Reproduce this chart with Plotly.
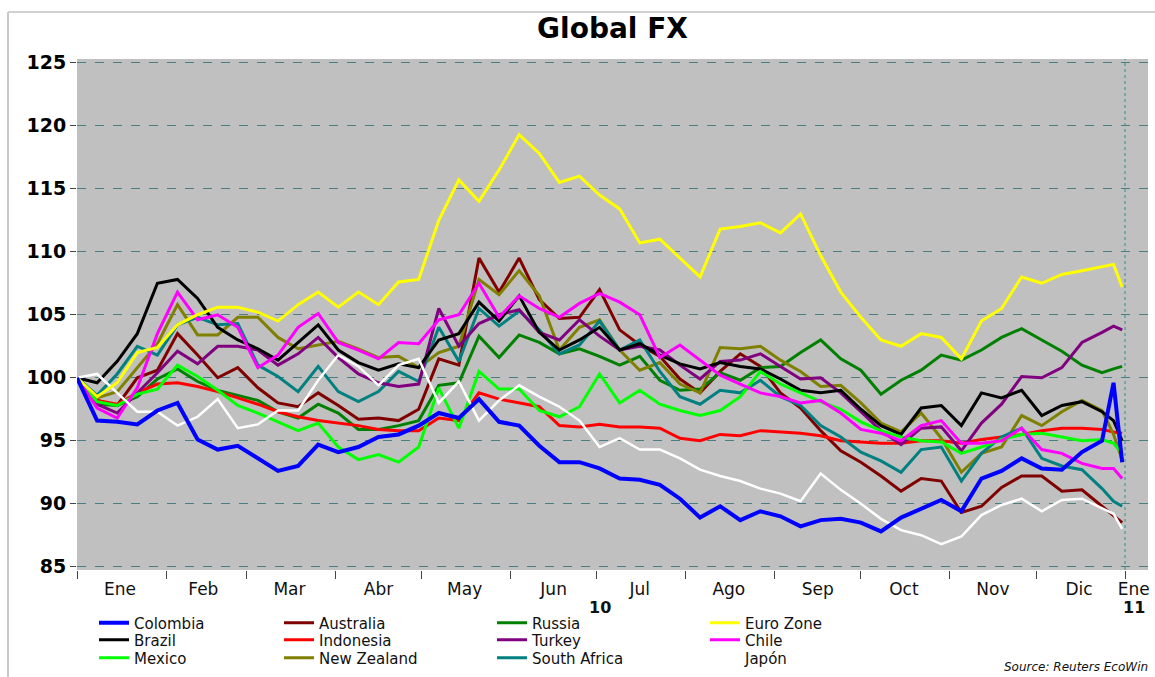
import plotly.graph_objects as go

dates = ["2010-01-01", "2010-01-08", "2010-01-15", "2010-01-22", "2010-01-29", "2010-02-05",
         "2010-02-12", "2010-02-19", "2010-02-26", "2010-03-05", "2010-03-12", "2010-03-19",
         "2010-03-26", "2010-04-02", "2010-04-09", "2010-04-16", "2010-04-23", "2010-04-30",
         "2010-05-07", "2010-05-14", "2010-05-21", "2010-05-28", "2010-06-04", "2010-06-11",
         "2010-06-18", "2010-06-25", "2010-07-02", "2010-07-09", "2010-07-16", "2010-07-23",
         "2010-07-30", "2010-08-06", "2010-08-13", "2010-08-20", "2010-08-27", "2010-09-03",
         "2010-09-10", "2010-09-17", "2010-09-24", "2010-10-01", "2010-10-08", "2010-10-15",
         "2010-10-22", "2010-10-29", "2010-11-05", "2010-11-12", "2010-11-19", "2010-11-26",
         "2010-12-03", "2010-12-10", "2010-12-17", "2010-12-24", "2010-12-28", "2010-12-31"]

colombia = [100, 96.6, 96.5, 96.3, 97.4, 98.0, 95.1, 94.3, 94.6, 93.6, 92.6, 93.0, 94.7, 94.1,
            94.5, 95.3, 95.5, 96.2, 97.2, 96.8, 98.3, 96.5, 96.2, 94.6, 93.3, 93.3, 92.8, 92.0,
            91.9, 91.5, 90.4, 88.9, 89.8, 88.7, 89.4, 89.0, 88.2, 88.7, 88.8, 88.5, 87.8, 88.9,
            89.6, 90.3, 89.4, 92.0, 92.6, 93.6, 92.8, 92.7, 94.1, 95.0, 99.6, 93.3]
brazil = [100, 99.6, 101.3, 103.5, 107.5, 107.8, 106.3, 104.0, 103.0, 102.3, 101.4, 102.8, 104.2,
          102.2, 101.2, 100.6, 101.1, 100.8, 103.0, 103.5, 106.0, 104.5, 106.5, 103.6, 102.2,
          103.0, 104.0, 102.2, 102.7, 101.8, 101.1, 100.7, 101.2, 100.9, 100.7, 99.9, 99.0, 98.8,
          99.0, 97.5, 96.2, 95.5, 97.6, 97.8, 96.2, 98.8, 98.4, 99.0, 97.0, 97.8, 98.1, 97.3,
          96.6, 95.0]
mexico = [100, 98.1, 97.8, 98.7, 99.1, 101.0, 100.1, 99.0, 97.8, 97.2, 96.5, 95.8, 96.4, 94.5,
          93.5, 93.9, 93.3, 94.5, 99.2, 96.0, 100.5, 99.1, 99.1, 97.4, 96.9, 97.7, 100.3, 98.0,
          99.0, 97.9, 97.4, 97.0, 97.4, 98.5, 100.5, 99.5, 98.8, 98.1, 97.5, 96.5, 95.8, 95.3,
          95.0, 94.9, 94.0, 94.5, 95.1, 95.5, 95.6, 95.3, 95.0, 95.1, 94.8, 94.0]
australia = [100, 98.2, 97.8, 100.0, 100.6, 103.5, 101.8, 100.0, 100.8, 99.2, 98.0, 97.7, 98.8,
             97.8, 96.7, 96.8, 96.6, 97.5, 101.5, 101.0, 109.5, 106.8, 109.5, 106.2, 104.7, 104.8,
             107.0, 103.8, 102.6, 101.7, 99.9, 98.8, 100.5, 101.9, 100.9, 98.8, 97.6, 95.8, 94.2,
             93.3, 92.2, 91.0, 92.0, 91.8, 89.3, 89.8, 91.3, 92.2, 92.2, 91.0, 91.1, 89.8, 89.0,
             88.5]
indonesia = [100, 98.2, 97.9, 98.8, 99.5, 99.6, 99.3, 98.9, 98.4, 97.9, 97.3, 96.9, 96.6, 96.4,
             96.2, 95.9, 95.8, 95.8, 96.8, 96.6, 98.8, 98.3, 98.0, 97.7, 96.2, 96.1, 96.3, 96.1,
             96.1, 96.0, 95.2, 95.0, 95.5, 95.4, 95.8, 95.7, 95.6, 95.4, 95.0, 94.9, 94.8, 94.8,
             95.0, 95.0, 94.8, 95.1, 95.3, 95.5, 95.8, 96.0, 96.0, 95.9, 95.7, 95.6]
new_zealand = [100, 98.4, 98.9, 100.8, 102.7, 105.8, 103.4, 103.4, 104.8, 104.8, 103.2, 102.3,
               102.6, 102.9, 102.3, 101.6, 101.7, 100.8, 102.0, 102.5, 107.8, 106.6, 108.5, 106.5,
               102.2, 104.0, 104.6, 102.2, 100.6, 101.2, 99.5, 98.8, 102.4, 102.3, 102.5, 101.4,
               100.5, 99.3, 99.4, 98.0, 96.4, 95.7, 97.2, 95.2, 92.5, 94.0, 94.5, 97.0, 96.2, 97.3,
               98.2, 97.4, 95.5, 93.5]
russia = [100, 97.9, 97.8, 98.5, 99.9, 100.7, 99.7, 99.0, 98.6, 98.2, 97.3, 96.8, 97.9, 97.2,
          95.9, 95.9, 96.2, 96.6, 99.4, 99.6, 103.3, 101.6, 103.4, 102.8, 101.9, 102.3, 101.7,
          101.0, 101.7, 99.8, 99.0, 99.1, 100.4, 99.8, 100.8, 100.9, 102.0, 103.0, 101.5, 100.6,
          98.7, 99.8, 100.6, 101.8, 101.4, 102.2, 103.2, 103.9, 103.0, 102.1, 101.0, 100.4,
          100.7, 100.9]
turkey = [100, 97.9, 97.2, 98.8, 100.4, 102.1, 101.1, 102.5, 102.5, 102.2, 101.0, 101.9, 103.2,
          101.6, 100.3, 99.6, 99.3, 99.5, 105.5, 102.5, 104.3, 105.0, 105.4, 103.6, 103.0, 104.6,
          103.3, 102.2, 102.5, 102.2, 101.0, 99.9, 101.3, 101.4, 101.9, 100.9, 99.9, 100.0, 98.8,
          97.3, 95.8, 94.7, 96.0, 96.1, 94.2, 96.4, 97.9, 100.1, 100.0, 100.8, 102.8, 103.6,
          104.1, 103.8]
south_africa = [100, 98.6, 100.3, 102.5, 101.8, 104.2, 104.8, 104.2, 104.3, 101.0, 100.1, 98.9,
                100.9, 98.9, 98.1, 98.9, 100.5, 99.7, 104.0, 101.3, 105.5, 104.1, 105.3, 103.8,
                101.9, 102.6, 104.5, 102.2, 103.0, 100.5, 98.5, 97.9, 99.0, 98.8, 99.8, 98.5,
                97.8, 96.2, 95.3, 94.1, 93.4, 92.5, 94.3, 94.5, 91.8, 94.0, 95.3, 96.0, 93.6, 93.0,
                92.7, 91.2, 90.2, 89.8]
euro_zone = [100, 98.5, 99.6, 102.0, 102.4, 104.2, 105.0, 105.6, 105.6, 105.2, 104.5, 105.8,
             106.8, 105.6, 106.8, 105.8, 107.6, 107.8, 112.5, 115.7, 114.0, 116.5, 119.3, 117.8,
             115.5, 116.0, 114.5, 113.4, 110.7, 111.0, 109.5, 108.0, 111.8, 112.0, 112.3, 111.5,
             113.0, 109.7, 106.8, 104.8, 103.0, 102.5, 103.5, 103.2, 101.5, 104.5, 105.5, 108.0,
             107.5, 108.2, 108.5, 108.8, 109.0, 107.2]
chile = [100, 97.6, 96.8, 99.2, 103.5, 106.8, 104.6, 105.0, 104.0, 100.8, 101.8, 104.0, 105.1,
         102.8, 102.2, 101.5, 102.8, 102.7, 104.6, 105.0, 107.5, 104.8, 106.5, 105.5, 104.8, 105.9,
         106.7, 106.0, 105.0, 101.6, 102.6, 101.4, 100.2, 99.5, 98.8, 98.5, 98.0, 98.2, 97.2, 95.9,
         95.6, 95.0, 96.2, 96.6, 94.8, 94.8, 95.0, 96.0, 94.3, 94.0, 93.2, 92.8, 92.8, 92.0]
japon = [100, 100.3, 98.8, 97.3, 97.3, 96.2, 96.9, 98.3, 96.0, 96.3, 97.4, 97.4, 99.8, 101.8,
         100.9, 99.4, 101.0, 101.5, 98.0, 99.7, 96.6, 98.2, 99.4, 98.5, 97.7, 96.6, 94.5, 95.2,
         94.3, 94.3, 93.6, 92.7, 92.2, 91.8, 91.2, 90.8, 90.2, 92.4, 91.1, 90.0, 88.8, 87.9, 87.5,
         86.8, 87.4, 89.1, 89.9, 90.4, 89.4, 90.3, 90.4, 89.6, 89.2, 88.0]

month_starts = ["2010-01-01", "2010-02-01", "2010-03-01", "2010-04-01", "2010-05-01", "2010-06-01",
                "2010-07-01", "2010-08-01", "2010-09-01", "2010-10-01", "2010-11-01", "2010-12-01",
                "2011-01-01"]
label_dates = ["2010-01-16", "2010-02-14", "2010-03-16", "2010-04-16", "2010-05-16", "2010-06-16",
               "2010-07-16", "2010-08-16", "2010-09-16", "2010-10-16", "2010-11-16", "2010-12-16",
               "2011-01-04"]
month_labels = ["Ene", "Feb", "Mar", "Abr", "May", "Jun", "Jul", "Ago", "Sep", "Oct", "Nov", "Dic", "Ene"]
y_ticks = [85, 90, 95, 100, 105, 110, 115, 120, 125]

# name, values, colour, width, legend column, legend row
series = [
    ("Australia", australia, "#800000", 3, 1, 0),
    ("Russia", russia, "#008000", 3, 2, 0),
    ("Indonesia", indonesia, "#FF0000", 3, 1, 1),
    ("New Zealand", new_zealand, "#808000", 3, 1, 2),
    ("South Africa", south_africa, "#008080", 3, 2, 2),
    ("Turkey", turkey, "#800080", 3, 2, 1),
    ("Brazil", brazil, "#000000", 3, 0, 1),
    ("Mexico", mexico, "#00FF00", 3, 0, 2),
    ("Chile", chile, "#FF00FF", 3, 3, 1),
    ("Japón", japon, "#FFFFFF", 2.5, 3, 2),
    ("Euro Zone", euro_zone, "#FFFF00", 3, 3, 0),
    ("Colombia", colombia, "#0000FF", 4, 0, 0),
]

L, R, T, B = 77, 7, 59, 107
W, H = 1155, 677
pw, ph = W - L - R, H - T - B
col_text_px = [134, 319, 532, 745]
row_px = [623, 640, 658]

fig = go.Figure()
layout_legends = {}
for i, (name, vals, color, width, col, row) in enumerate(series):
    lid = "legend" if i == 0 else f"legend{i + 1}"
    fig.add_trace(go.Scatter(x=dates, y=vals, mode="lines", name=name,
                             line=dict(color=color, width=width), legend=lid))
    layout_legends[lid] = dict(
        x=(col_text_px[col] - 40 - L) / pw, y=(H - B - row_px[row]) / ph,
        xanchor="left", yanchor="middle", bgcolor="rgba(0,0,0,0)",
        font=dict(family="DejaVu Sans", size=15, color="#111"))

fig.update_layout(
    width=W, height=H,
    margin=dict(l=L, r=R, t=T, b=B, autoexpand=False),
    paper_bgcolor="white", plot_bgcolor="#C0C0C0",
    title=dict(text="<b>Global FX</b>", x=0.5, xref="paper", xanchor="center",
               y=1 - 28 / H, yanchor="middle",
               font=dict(family="DejaVu Sans", size=28, color="black")),
    showlegend=True,
    **layout_legends,
)

fig.update_xaxes(
    range=["2010-01-01", "2011-01-09"], showgrid=False, zeroline=False, automargin=False,
    tickmode="array", tickvals=label_dates, ticktext=month_labels,
    ticks="outside", ticklen=4, tickcolor="rgba(0,0,0,0)",
    tickfont=dict(family="DejaVu Sans", size=17, color="#111"),
    minor=dict(tickmode="array", tickvals=month_starts, ticks="outside", ticklen=8,
               tickcolor="#444", tickwidth=1, showgrid=False),
)
fig.update_yaxes(
    range=[84.74, 125.3], tickmode="array", tickvals=y_ticks, automargin=False,
    showgrid=True, gridcolor="#4a7f80", griddash="dash", gridwidth=1, zeroline=False,
    ticks="outside", ticklen=6, tickcolor="#444",
    tickfont=dict(family="DejaVu Sans", size=19, color="black", weight="bold"),
)

fig.add_shape(type="line", xref="x", yref="paper", x0="2011-01-01", x1="2011-01-01",
              y0=0, y1=1, line=dict(color="#2f8f8f", width=1, dash="dot"))
fig.add_shape(type="line", xref="paper", yref="paper", x0=(8 - L) / pw, x1=(8 - L) / pw,
              y0=-B / ph, y1=(H - 12 - B) / ph, line=dict(color="#c8c8c8", width=2))
fig.add_shape(type="line", xref="paper", yref="paper", x0=(8 - L) / pw, x1=(W - L) / pw,
              y0=(H - 12 - B) / ph, y1=(H - 12 - B) / ph, line=dict(color="#d0d0d0", width=2))

fig.add_annotation(x="2010-07-02", y=(H - B - 607) / ph, xref="x", yref="paper", text="<b>10</b>",
                   showarrow=False, yanchor="middle",
                   font=dict(family="DejaVu Sans", size=16, color="#111"))
fig.add_annotation(x="2011-01-04", y=(H - B - 607) / ph, xref="x", yref="paper", text="<b>11</b>",
                   showarrow=False, yanchor="middle",
                   font=dict(family="DejaVu Sans", size=16, color="#111"))
fig.add_annotation(x=(1150 - L) / pw, y=(H - B - 667) / ph, xref="paper", yref="paper",
                   xanchor="right", yanchor="middle", text="<i>Source: Reuters EcoWin</i>",
                   showarrow=False, font=dict(family="DejaVu Sans", size=12, color="#111"))

fig.write_html("out.html", config={"displayModeBar": False},
               post_script="document.body.style.margin='0px';")
